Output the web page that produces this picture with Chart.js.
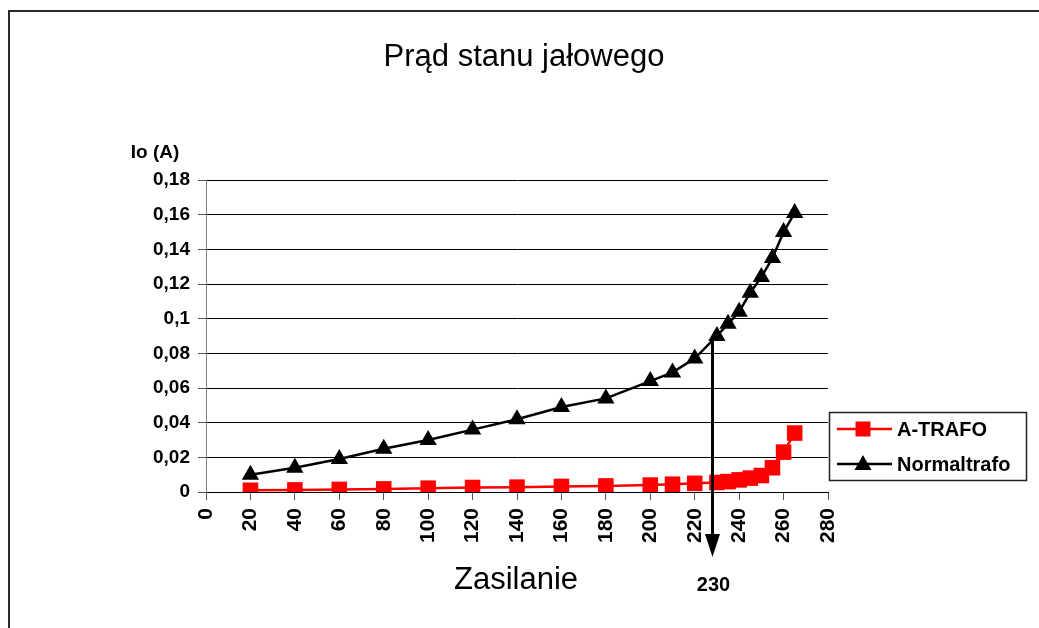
<!DOCTYPE html>
<html>
<head>
<meta charset="utf-8">
<script src="https://cdn.jsdelivr.net/npm/chart.js@4.4.0/dist/chart.umd.min.js"></script>
<style>
html,body{margin:0;padding:0;background:#fff;}
#c{display:block;}
</style>
</head>
<body>
<canvas id="c" width="1039" height="628"></canvas>
<script>
// ---- data ----
const voltage = [20,40,60,80,100,120,140,160,180,200,210,220,230,235,240,245,250,255,260,265];
const aTrafo = [0.001,0.0012,0.0015,0.0018,0.0022,0.0026,0.0028,0.0032,0.0035,0.004,0.0045,0.005,0.0055,0.006,0.007,0.008,0.0095,0.014,0.023,0.034];
const normalTrafo = [0.010,0.014,0.019,0.025,0.030,0.036,0.042,0.049,0.054,0.064,0.069,0.077,0.090,0.097,0.104,0.115,0.124,0.135,0.150,0.161];
const yTickLabels = ['0','0,02','0,04','0,06','0,08','0,1','0,12','0,14','0,16','0,18'];
const xTickValues = [0,20,40,60,80,100,120,140,160,180,200,220,240,260,280];
const seriesNames = ['A-TRAFO','Normaltrafo'];
const chartTitle = 'Prąd stanu jałowego';
const xTitle = 'Zasilanie';
const yTitle = 'Io (A)';
const markerX = 228;        // position of the arrow on the voltage axis
const markerY = 0.090;      // where the arrow starts
const markerLabel = '230';

const toPts = (xs, ys) => xs.map((x, i) => ({x, y: ys[i]}));

const decor = {
  id: 'decor',
  afterDraw(chart) {
    const ctx = chart.ctx;
    const xs = chart.scales.x, ys = chart.scales.y;
    const ca = chart.chartArea;
    ctx.save();
    // outer border
    ctx.strokeStyle = '#2a2a2a';
    ctx.lineWidth = 2;
    ctx.beginPath();
    ctx.moveTo(9, 640); ctx.lineTo(9, 11); ctx.lineTo(1045, 11);
    ctx.stroke();

    // title
    ctx.fillStyle = '#000';
    ctx.textAlign = 'center';
    ctx.textBaseline = 'alphabetic';
    ctx.font = '31px "Liberation Sans", Arial, sans-serif';
    ctx.fillText(chartTitle, 524, 66);
    // x title
    ctx.fillText(xTitle, 516, 589);
    // y title
    ctx.font = 'bold 19px "Liberation Sans", Arial, sans-serif';
    ctx.fillText(yTitle, 155, 158);

    // arrow
    const ax = xs.getPixelForValue(markerX);
    const ay = ys.getPixelForValue(markerY);
    const tip = ca.bottom + 65;
    ctx.strokeStyle = '#000';
    ctx.fillStyle = '#000';
    ctx.lineWidth = 3;
    ctx.beginPath();
    ctx.moveTo(ax, ay); ctx.lineTo(ax, tip - 20);
    ctx.stroke();
    ctx.beginPath();
    ctx.moveTo(ax - 7.5, tip - 23); ctx.lineTo(ax + 7.5, tip - 23); ctx.lineTo(ax, tip);
    ctx.closePath();
    ctx.fill();
    ctx.font = 'bold 20px "Liberation Sans", Arial, sans-serif';
    ctx.textAlign = 'center';
    ctx.fillText(markerLabel, ax + 1, 591);

    // legend
    ctx.lineWidth = 1.5;
    ctx.strokeStyle = '#222';
    ctx.fillStyle = '#fff';
    ctx.fillRect(829, 412, 198, 69);
    ctx.strokeRect(829.5, 412.5, 197, 68);
    const ds = chart.data.datasets;
    const rows = [429, 464];
    ds.forEach((d, i) => {
      const y = rows[i];
      ctx.strokeStyle = d.borderColor;
      ctx.lineWidth = 2.5;
      ctx.beginPath(); ctx.moveTo(837, y); ctx.lineTo(892, y); ctx.stroke();
      ctx.fillStyle = d.borderColor;
      ctx.beginPath();
      if (d.pointStyle === 'rect') {
        ctx.rect(863 - 7.5, y - 7.5, 15, 15);
      } else {
        ctx.moveTo(863, y - 9); ctx.lineTo(871.5, y + 6); ctx.lineTo(854.5, y + 6); ctx.closePath();
      }
      ctx.fill();
      ctx.fillStyle = '#000';
      ctx.font = 'bold 20px "Liberation Sans", Arial, sans-serif';
      ctx.textAlign = 'left';
      ctx.textBaseline = 'middle';
      ctx.fillText(d.label, 897, y + 1);
    });
    ctx.restore();
  }
};

new Chart(document.getElementById('c'), {
  type: 'line',
  data: {
    datasets: [
      {
        label: seriesNames[0],
        data: toPts(voltage, aTrafo),
        borderColor: '#ff0000',
        backgroundColor: '#ff0000',
        borderWidth: 2.5,
        pointStyle: 'rect',
        pointRadius: 11,
        pointBorderWidth: 0,
        tension: 0
      },
      {
        label: seriesNames[1],
        data: toPts(voltage, normalTrafo),
        borderColor: '#000000',
        backgroundColor: '#000000',
        borderWidth: 2.5,
        pointStyle: 'triangle',
        pointRadius: 10,
        pointBorderWidth: 0,
        tension: 0
      }
    ]
  },
  options: {
    responsive: false,
    animation: false,
    layout: { padding: { left: 0, top: 180, right: 211, bottom: 0 } },
    plugins: { legend: { display: false }, title: { display: false }, tooltip: { enabled: false } },
    scales: {
      x: {
        type: 'linear',
        min: 0, max: 280,
        afterBuildTicks(scale) { scale.ticks = xTickValues.map(v => ({value: v})); },
        afterFit(scale) { scale.height = 136; },
        grid: { drawOnChartArea: false, drawTicks: true, tickLength: 8, color: '#555', lineWidth: 1 },
        border: { display: true, color: '#000', width: 1 },
        ticks: {
          autoSkip: false, minRotation: 90, maxRotation: 90, padding: 8,
          color: '#000',
          font: { family: '"Liberation Sans", Arial, sans-serif', size: 21, weight: 'bold' }
        }
      },
      y: {
        min: 0, max: 0.18,
        afterBuildTicks(scale) { scale.ticks = yTickLabels.map((_, i) => ({value: i * 0.02})); },
        afterFit(scale) { scale.width = 206; },
        grid: { color: '#000', tickColor: '#555', tickLength: 8, lineWidth: 1 },
        border: { display: true, color: '#808080', width: 1 },
        ticks: {
          padding: 8, color: '#000',
          font: { family: '"Liberation Sans", Arial, sans-serif', size: 19, weight: 'bold' },
          callback: (v, i) => yTickLabels[i]
        }
      }
    }
  },
  plugins: [decor]
});
</script>
</body>
</html>
